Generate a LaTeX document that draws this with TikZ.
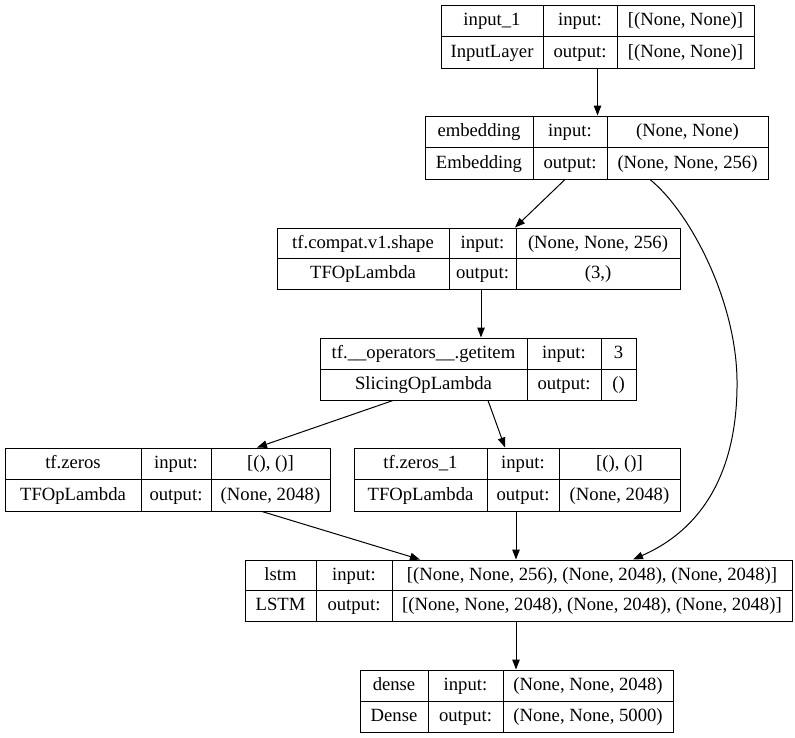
\documentclass[tikz,border=0pt]{standalone}
\usepackage{fontspec}
\newfontfamily\kfont{Liberation Serif}
\usetikzlibrary{arrows.meta,fit}
\tikzset{
  kframe/.style={draw, line width=1pt, inner sep=0pt},
  kline/.style={line width=1pt},
  ktext/.style={inner sep=0pt, text height=13pt, text depth=3pt, font=\kfont\fontsize{18.67}{20}\selectfont},
  kedge/.style={line width=1pt, -{Triangle[length=10pt,width=7.5pt]}},
}
\newcommand\kbox[9]{%
  \def\kL{#2}\def\kT{#3}\def\kR{#4}\def\kB{#5}\def\kA{#6}\def\kC{#7}%
  \pgfmathsetmacro\kM{(#3+#5)/2}%
  \node[kframe, fit={(#2,#3)(#4,#5)}] (#1) {};
  \draw[kline] (#6,#3) -- (#6,#5) (#7,#3) -- (#7,#5) (#2,\kM) -- (#4,\kM);
  \node[ktext] (#1-name) at ({(#2+#6)/2},{(#3+\kM)/2}) {#8};
  \node[ktext] (#1-cls) at ({(#2+#6)/2},{(\kM+#5)/2}) {#9};
  \node[ktext] (#1-inl) at ({(#6+#7)/2},{(#3+\kM)/2}) {input:};
  \node[ktext] (#1-outl) at ({(#6+#7)/2},{(\kM+#5)/2}) {output:};
  \def\kName{#1}%
}
\newcommand\kio[2]{%
  \node[ktext] (\kName-in) at ({(\kC+\kR)/2},{(\kT+\kM)/2}) {#1};
  \node[ktext] (\kName-out) at ({(\kC+\kR)/2},{(\kM+\kB)/2}) {#2};
}
\begin{document}
\begin{tikzpicture}[x=1pt,y=-1pt]
\useasboundingbox (0,0) rectangle (795,737);
\kbox{get}{320}{338}{636}{400}{527}{601}{tf.\_\_operators\_\_.getitem}{SlicingOpLambda}
\kio{3}{()}
\kbox{inp}{441}{5}{754}{68}{543}{617}{input\_1}{InputLayer}
\kio{[(None, None)]}{[(None, None)]}
\kbox{emb}{425}{116}{768}{179}{533}{607}{embedding}{Embedding}
\kio{(None, None)}{(None, None, 256)}
\kbox{shp}{277}{228}{680}{289}{449}{516}{tf.compat.v1.shape}{TFOpLambda}
\kio{(None, None, 256)}{(3,)}
\kbox{zer}{5}{448}{330}{511}{141}{211}{tf.zeros}{TFOpLambda}
\kio{[(), ()]}{(None, 2048)}
\kbox{zeo}{354}{448}{680}{511}{487}{559}{tf.zeros\_1}{TFOpLambda}
\kio{[(), ()]}{(None, 2048)}
\kbox{lstm}{245}{560}{792}{621}{316}{392}{lstm}{LSTM}
\kio{[(None, None, 256), (None, 2048), (None, 2048)]}{[(None, None, 2048), (None, 2048), (None, 2048)]}
\kbox{dns}{360}{670}{673}{732}{428}{503}{dense}{Dense}
\kio{(None, None, 2048)}{(None, None, 5000)}
% edges
\draw[kedge] (inp.south) -- (inp.south |- emb.north);
\draw[kedge] ([xshift=-31.5pt]emb.south) -- ([xshift=36.5pt]shp.north);
\draw[kedge] ([xshift=53.5pt]emb.south) .. controls (690,212) and (736,300) .. (737,380)
   .. controls (738,468) and (705,528) .. ([xshift=114.5pt]lstm.north);
\draw[kedge] ([xshift=2.5pt]shp.south) -- ([xshift=3pt]get.north);
\draw[kedge] ([xshift=-85pt]get.south) -- ([xshift=89.5pt]zer.north);
\draw[kedge] ([xshift=10pt]get.south) -- ([xshift=-12pt]zeo.north);
\draw[kedge] ([xshift=94.5pt]zer.south) -- ([xshift=-98.5pt]lstm.north);
\draw[kedge] ([xshift=-1pt]zeo.south) -- ([xshift=-2.5pt]lstm.north);
\draw[kedge] ([xshift=-2.5pt]lstm.south) -- ([xshift=-0.5pt]dns.north);
\end{tikzpicture}
\end{document}
